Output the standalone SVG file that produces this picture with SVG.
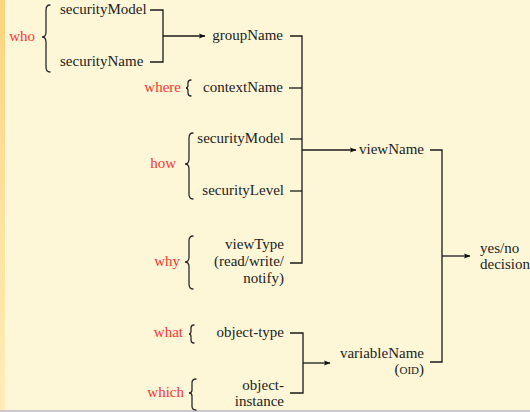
<svg xmlns="http://www.w3.org/2000/svg" width="530" height="412" viewBox="0 0 530 412">
<defs>
<linearGradient id="strip" x1="0" y1="0" x2="0" y2="1">
<stop offset="0" stop-color="#FFD47C"/>
<stop offset="1" stop-color="#FFEDB9"/>
</linearGradient>
<marker id="arr" markerUnits="userSpaceOnUse" markerWidth="8" markerHeight="6" refX="6" refY="3" orient="auto">
<path d="M0,0.4 L6.5,3 L0,5.6 L1.2,3 z" fill="#111"/>
</marker>
<style>
text{font-family:'Liberation Serif','DejaVu Serif',serif;font-size:15px;fill:#222}
.lbl{fill:#FF3333;text-anchor:end}
.r{text-anchor:end}
.ln{fill:none;stroke:#1a1a1a;stroke-width:1.3}
.ar{fill:none;stroke:#1a1a1a;stroke-width:1.3;marker-end:url(#arr)}
.br{fill:none;stroke:#2a2a2a;stroke-width:1.3;stroke-linecap:round}
</style>
</defs>
<rect width="530" height="412" fill="#FEF7D7"/>
<rect x="0" y="0" width="5" height="410" fill="url(#strip)"/>
<rect x="0" y="410" width="530" height="2" fill="#C9C9C9"/>

<g id="connectors">
<path class="ln" d="M150,10 H163 V62 H150"/>
<path class="ar" d="M163,36 H205"/>
<path class="ln" d="M290,36 H302 V263 H290"/>
<path class="ln" d="M289,88 H302"/>
<path class="ln" d="M290,139 H302"/>
<path class="ln" d="M290,191 H302"/>
<path class="ar" d="M302,150 H356"/>
<path class="ln" d="M430,150 H442 V362 H430"/>
<path class="ar" d="M442,256 H470"/>
<path class="ln" d="M290,333 H303 V393 H290"/>
<path class="ar" d="M303,363 H330"/>
</g>

<g id="who">
<text class="lbl" x="35" y="41">who</text>
<path class="br" d="M50,5 Q46,5 46,10 L46,32 Q46,37 42,37 Q46,37 46,42 L46,67 Q46,72 50,72"/>
<text x="60" y="14">securityModel</text>
<text x="60" y="66">securityName</text>
</g>
<g id="groupName"><text class="r" x="283" y="40">groupName</text></g>
<g id="where">
<text class="lbl" x="181" y="92">where</text>
<path class="br" d="M191,80 Q188,80 188,83 L188,85 Q188,88 186,88 Q188,88 188,91 L188,93 Q188,96 191,96"/>
<text class="r" x="283" y="92">contextName</text>
</g>
<g id="how">
<text class="lbl" x="176" y="168">how</text>
<path class="br" d="M193,133 Q189,133 189,138 L189,159 Q189,164 185,164 Q189,164 189,169 L189,194 Q189,199 193,199"/>
<text class="r" x="284" y="143">securityModel</text>
<text class="r" x="284" y="195">securityLevel</text>
</g>
<g id="viewName"><text class="r" x="424" y="154">viewName</text></g>
<g id="why">
<text class="lbl" x="180" y="266">why</text>
<path class="br" d="M193,236 Q189,236 189,241 L189,257 Q189,262 185,262 Q189,262 189,267 L189,284 Q189,289 193,289"/>
<text class="r" x="284" y="249">viewType</text>
<text class="r" x="284" y="266">(read/write/</text>
<text class="r" x="284" y="283">notify)</text>
</g>
<g id="what">
<text class="lbl" x="183" y="337">what</text>
<path class="br" d="M194,325 Q191,325 191,328 L191,331 Q191,334 189,334 Q191,334 191,337 L191,340 Q191,343 194,343"/>
<text class="r" x="284" y="337">object-type</text>
</g>
<g id="which">
<text class="lbl" x="184" y="397">which</text>
<path class="br" d="M196,379 Q192,379 192,383 L192,390 Q192,393 189,393 Q192,393 192,396 L192,406 Q192,410 196,410"/>
<text class="r" x="284" y="390">object-</text>
<text class="r" x="284" y="406">instance</text>
</g>
<g id="variableName">
<text class="r" x="424" y="358">variableName</text>
<text class="r" x="424" y="374">(<tspan font-size="11">OID</tspan>)</text>
</g>
<g id="decision">
<text x="480" y="253">yes/no</text>
<text x="480" y="269">decision</text>
</g>
</svg>
